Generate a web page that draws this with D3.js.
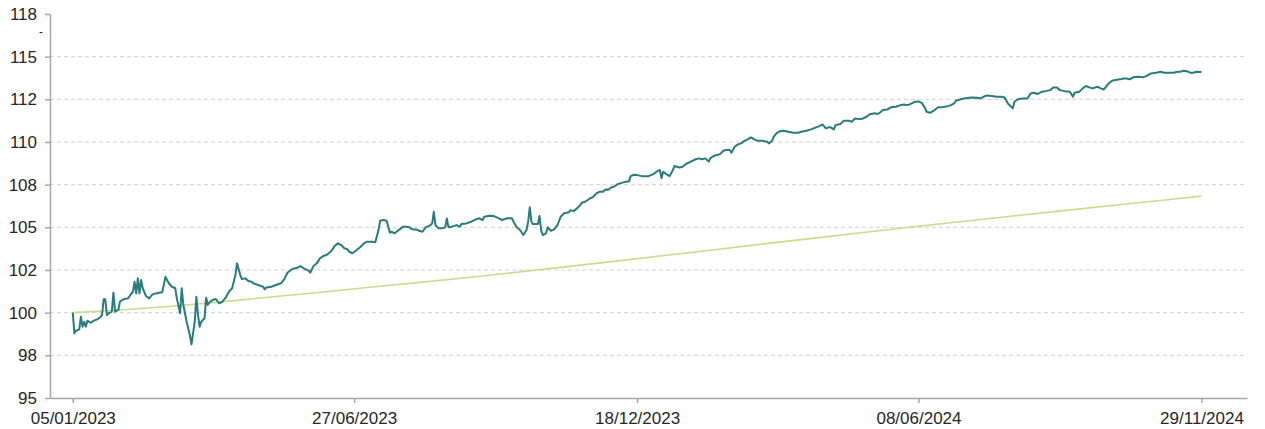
<!DOCTYPE html>
<html>
<head>
<meta charset="utf-8">
<script src="https://cdn.jsdelivr.net/npm/d3@7"></script>
<style>
  html, body { margin: 0; padding: 0; background: #fff; }
  #chart-area { width: 1265px; height: 429px; }
  .axis text { font-family: "Liberation Sans", Arial, sans-serif; font-size: 17px; fill: #262626; }
  .axis path, .axis line { stroke: #a6a6a6; stroke-width: 1.5; }
  .grid line { stroke: #d0d0d0; stroke-width: 1; stroke-dasharray: 4,3; }
</style>
</head>
<body>
<div id="chart-area"></div>
<script>
// fund index (teal line)
const fundDates = [
  "2023-01-05","2023-01-06","2023-01-07","2023-01-09","2023-01-10","2023-01-11","2023-01-12","2023-01-13","2023-01-14","2023-01-16",
  "2023-01-18","2023-01-20","2023-01-22","2023-01-23","2023-01-24","2023-01-25","2023-01-26","2023-01-27","2023-01-29","2023-01-30",
  "2023-01-31","2023-02-02","2023-02-03","2023-02-05","2023-02-08","2023-02-09","2023-02-11","2023-02-12","2023-02-13","2023-02-14",
  "2023-02-15","2023-02-16","2023-02-17","2023-02-19","2023-02-21","2023-02-23","2023-02-27","2023-03-01","2023-03-03","2023-03-05",
  "2023-03-07","2023-03-09","2023-03-10","2023-03-12","2023-03-13","2023-03-14","2023-03-16","2023-03-18","2023-03-19","2023-03-21",
  "2023-03-22","2023-03-23","2023-03-24","2023-03-25","2023-03-27","2023-03-28","2023-03-29","2023-03-30","2023-04-01","2023-04-03",
  "2023-04-05","2023-04-07","2023-04-09","2023-04-11","2023-04-13","2023-04-15","2023-04-16","2023-04-18","2023-04-19","2023-04-21",
  "2023-04-23","2023-04-25","2023-04-26","2023-04-29","2023-05-02","2023-05-03","2023-05-04","2023-05-07","2023-05-10","2023-05-13",
  "2023-05-15","2023-05-17","2023-05-20","2023-05-23","2023-05-25","2023-05-27","2023-05-30","2023-05-31","2023-06-02","2023-06-04",
  "2023-06-06","2023-06-08","2023-06-10","2023-06-13","2023-06-15","2023-06-17","2023-06-19","2023-06-21","2023-06-23","2023-06-24",
  "2023-06-26","2023-06-28","2023-07-01","2023-07-03","2023-07-05","2023-07-08","2023-07-10","2023-07-12","2023-07-13","2023-07-15",
  "2023-07-17","2023-07-18","2023-07-19","2023-07-20","2023-07-22","2023-07-23","2023-07-25","2023-07-27","2023-07-29","2023-07-31",
  "2023-08-02","2023-08-04","2023-08-06","2023-08-08","2023-08-10","2023-08-13","2023-08-14","2023-08-15","2023-08-16","2023-08-18",
  "2023-08-20","2023-08-22","2023-08-23","2023-08-24","2023-08-26","2023-08-29","2023-08-31","2023-09-01","2023-09-04","2023-09-07",
  "2023-09-10","2023-09-12","2023-09-14","2023-09-15","2023-09-18","2023-09-21","2023-09-24","2023-09-26","2023-09-29","2023-10-02",
  "2023-10-03","2023-10-05","2023-10-07","2023-10-09","2023-10-11","2023-10-12","2023-10-13","2023-10-14","2023-10-15","2023-10-18",
  "2023-10-19","2023-10-20","2023-10-21","2023-10-23","2023-10-24","2023-10-26","2023-10-28","2023-10-30","2023-11-01","2023-11-03",
  "2023-11-06","2023-11-07","2023-11-09","2023-11-11","2023-11-13","2023-11-14","2023-11-16","2023-11-19","2023-11-21","2023-11-23",
  "2023-11-25","2023-11-27","2023-11-29","2023-11-30","2023-12-02","2023-12-04","2023-12-06","2023-12-09","2023-12-12","2023-12-13",
  "2023-12-14","2023-12-16","2023-12-18","2023-12-21","2023-12-25","2023-12-28","2023-12-30","2024-01-01","2024-01-02","2024-01-03",
  "2024-01-05","2024-01-07","2024-01-09","2024-01-10","2024-01-13","2024-01-15","2024-01-17","2024-01-20","2024-01-23","2024-01-25",
  "2024-01-27","2024-01-29","2024-01-31","2024-02-01","2024-02-03","2024-02-05","2024-02-07","2024-02-09","2024-02-11","2024-02-13",
  "2024-02-14","2024-02-16","2024-02-18","2024-02-20","2024-02-22","2024-02-24","2024-02-26","2024-02-28","2024-03-01","2024-03-04",
  "2024-03-07","2024-03-08","2024-03-10","2024-03-11","2024-03-13","2024-03-15","2024-03-17","2024-03-20","2024-03-23","2024-03-26",
  "2024-03-28","2024-03-31","2024-04-03","2024-04-06","2024-04-08","2024-04-10","2024-04-12","2024-04-14","2024-04-15","2024-04-17",
  "2024-04-18","2024-04-21","2024-04-23","2024-04-26","2024-04-28","2024-04-30","2024-05-03","2024-05-05","2024-05-07","2024-05-09",
  "2024-05-12","2024-05-14","2024-05-16","2024-05-17","2024-05-20","2024-05-22","2024-05-25","2024-05-28","2024-05-30","2024-06-01",
  "2024-06-03","2024-06-06","2024-06-08","2024-06-10","2024-06-12","2024-06-13","2024-06-15","2024-06-18","2024-06-20","2024-06-22",
  "2024-06-24","2024-06-26","2024-06-28","2024-06-30","2024-07-01","2024-07-04","2024-07-06","2024-07-09","2024-07-11","2024-07-14",
  "2024-07-16","2024-07-18","2024-07-20","2024-07-23","2024-07-26","2024-07-29","2024-07-31","2024-08-02","2024-08-05","2024-08-06",
  "2024-08-08","2024-08-11","2024-08-14","2024-08-16","2024-08-18","2024-08-20","2024-08-23","2024-08-25","2024-08-28","2024-08-30",
  "2024-09-01","2024-09-03","2024-09-06","2024-09-09","2024-09-11","2024-09-12","2024-09-15","2024-09-17","2024-09-19","2024-09-21",
  "2024-09-23","2024-09-26","2024-09-28","2024-09-30","2024-10-01","2024-10-03","2024-10-05","2024-10-07","2024-10-10","2024-10-12",
  "2024-10-14","2024-10-16","2024-10-18","2024-10-21","2024-10-24","2024-10-26","2024-10-29","2024-11-01","2024-11-04","2024-11-06",
  "2024-11-09","2024-11-12","2024-11-14","2024-11-16","2024-11-18","2024-11-20","2024-11-22","2024-11-24","2024-11-26","2024-11-29"
];
const fundValues = [
  100.00, 98.79, 98.94, 99.02, 99.76, 99.18, 99.47, 99.18, 99.53, 99.41,
  99.53, 99.61, 99.73, 99.86, 100.78, 100.78, 99.86, 99.96, 100.06, 101.17,
  100.06, 100.16, 100.64, 100.78, 100.84, 100.98, 101.23, 101.81, 101.13, 102.01,
  101.13, 101.91, 101.43, 100.98, 100.84, 101.07, 101.17, 101.19, 102.10, 101.72,
  101.52, 101.43, 100.84, 99.96, 101.43, 100.45, 99.47, 98.69, 98.14, 99.47,
  100.93, 99.86, 99.18, 99.47, 99.67, 100.88, 100.45, 100.60, 100.74, 100.80,
  100.55, 100.64, 100.88, 101.23, 101.43, 102.20, 102.89, 102.20, 101.97, 102.01,
  101.85, 101.81, 101.72, 101.62, 101.52, 101.37, 101.48, 101.52, 101.62, 101.72,
  101.95, 102.34, 102.56, 102.63, 102.73, 102.60, 102.46, 102.34, 102.73, 102.89,
  103.18, 103.32, 103.38, 103.61, 103.90, 104.06, 103.96, 103.77, 103.71, 103.57,
  103.48, 103.63, 103.86, 104.06, 104.16, 104.16, 104.12, 104.84, 105.39, 105.43,
  105.39, 105.04, 104.68, 104.74, 104.65, 104.74, 104.88, 105.04, 105.04, 105.00,
  104.88, 104.88, 104.80, 104.74, 105.00, 105.13, 105.23, 105.91, 105.13, 104.94,
  104.94, 105.00, 105.52, 105.00, 105.04, 105.13, 105.04, 105.19, 105.23, 105.33,
  105.47, 105.53, 105.43, 105.62, 105.68, 105.66, 105.53, 105.43, 105.53, 105.53,
  105.33, 105.00, 104.84, 104.55, 104.84, 105.33, 106.17, 105.33, 105.19, 105.19,
  105.66, 104.84, 104.55, 104.65, 105.00, 104.80, 104.88, 105.13, 105.62, 105.82,
  105.88, 106.01, 105.95, 106.11, 106.30, 106.44, 106.50, 106.69, 106.79, 106.99,
  107.09, 107.09, 107.23, 107.19, 107.33, 107.39, 107.53, 107.62, 107.68, 107.68,
  108.00, 108.08, 108.06, 108.00, 108.00, 108.12, 108.26, 108.36, 107.87, 108.26,
  108.12, 108.00, 108.36, 108.59, 108.51, 108.55, 108.71, 108.85, 108.99, 109.04,
  108.99, 109.04, 108.85, 109.04, 109.18, 109.24, 109.29, 109.49, 109.53, 109.53,
  109.37, 109.72, 109.86, 109.92, 110.07, 110.15, 110.27, 110.15, 110.07, 110.07,
  110.01, 109.92, 110.07, 110.31, 110.54, 110.64, 110.66, 110.60, 110.54, 110.54,
  110.60, 110.66, 110.74, 110.86, 110.93, 111.03, 110.80, 110.86, 110.86, 110.74,
  110.99, 111.05, 111.24, 111.24, 111.19, 111.38, 111.34, 111.38, 111.48, 111.62,
  111.68, 111.64, 111.77, 111.87, 111.91, 112.03, 112.07, 112.16, 112.20, 112.16,
  112.22, 112.36, 112.38, 112.29, 112.00, 111.77, 111.71, 111.87, 112.03, 112.03,
  112.07, 112.10, 112.16, 112.26, 112.42, 112.50, 112.55, 112.59, 112.61, 112.59,
  112.55, 112.65, 112.73, 112.69, 112.65, 112.65, 112.61, 112.26, 111.97, 112.36,
  112.50, 112.55, 112.55, 112.85, 112.89, 112.81, 112.95, 112.98, 113.04, 113.20,
  113.20, 113.04, 112.98, 112.95, 112.66, 112.89, 112.95, 113.14, 113.28, 113.20,
  113.14, 113.24, 113.14, 113.08, 113.20, 113.43, 113.59, 113.63, 113.67, 113.72,
  113.72, 113.67, 113.79, 113.82, 113.79, 113.86, 114.02, 114.06, 114.12, 114.06,
  114.06, 114.06, 114.12, 114.12, 114.17, 114.15, 114.06, 114.06, 114.12, 114.10
];

// benchmark (light green line)
const benchDates = [
  "2023-01-05","2023-02-05","2023-03-05","2023-04-05","2023-05-05","2023-06-05","2023-07-05","2023-08-05",
  "2023-09-05","2023-10-05","2023-11-05","2023-12-05","2024-01-05","2024-02-05","2024-03-05","2024-04-05",
  "2024-05-05","2024-06-05","2024-07-05","2024-08-05","2024-09-05","2024-10-05","2024-11-05","2024-11-29"
];
const benchValues = [
  100.00, 100.17, 100.36, 100.62, 100.90, 101.18, 101.47, 101.76,
  102.06, 102.37, 102.70, 103.02, 103.36, 103.70, 104.03, 104.37,
  104.70, 105.03, 105.34, 105.66, 105.98, 106.28, 106.59, 106.83
];

// axis ticks
const xTickDates = ["2023-01-05", "2023-06-27", "2023-12-18", "2024-06-08", "2024-11-29"];
const yTickValues = [95, 97.5, 100, 102.5, 105, 107.5, 110, 112.5, 115, 117.5];
const yTickLabels = ["95", "98", "100", "102", "105", "108", "110", "112", "115", "118"];

const parseDate = d3.utcParse("%Y-%m-%d");

let fund = fundDates.map((d, i) => ({ date: parseDate(d), value: fundValues[i] }));
let bench = benchDates.map((d, i) => ({ date: parseDate(d), value: benchValues[i] }));

let width = 1265, height = 429;

let svg = d3
  .select("#chart-area")
  .append("svg")
  .attr("width", width)
  .attr("height", height);

// SCALES (axis runs a bit past the first and last data dates)
let x = d3
  .scaleUtc()
  .domain([parseDate("2022-12-22"), parseDate("2024-12-27")])
  .range([50, 1247]);

let y = d3.scaleLinear().domain([95, 117.5]).range([398, 14]);

// gridlines
svg
  .append("g")
  .attr("class", "grid")
  .selectAll("line")
  .data(yTickValues.filter((v) => v > 95 && v < 117.5))
  .enter()
  .append("line")
  .attr("x1", 50)
  .attr("x2", 1247)
  .attr("y1", (d) => y(d))
  .attr("y2", (d) => y(d));

// ---- LINES ----
let line = d3
  .line()
  .x((d) => x(d.date))
  .y((d) => y(d.value));

svg
  .append("path")
  .datum(bench)
  .attr("fill", "none")
  .attr("stroke", "#c8dc8f")
  .attr("stroke-width", 1.6)
  .attr("d", line);

svg
  .append("path")
  .datum(fund)
  .attr("fill", "none")
  .attr("stroke", "#2a7b7c")
  .attr("stroke-width", 2)
  .attr("stroke-linejoin", "round")
  .attr("d", line);

// ---- AXES ----
let xAxis = d3
  .axisBottom(x)
  .tickValues(xTickDates.map(parseDate))
  .tickFormat(d3.utcFormat("%d/%m/%Y"))
  .tickSize(5)
  .tickSizeOuter(0)
  .tickPadding(9);

let yAxis = d3
  .axisLeft(y)
  .tickValues(yTickValues)
  .tickFormat((d, i) => yTickLabels[i])
  .tickSize(5)
  .tickSizeOuter(0)
  .tickPadding(8);

svg
  .append("g")
  .attr("class", "x-axis axis")
  .attr("transform", "translate(0,398)")
  .call(xAxis);

svg
  .append("g")
  .attr("class", "y-axis axis")
  .attr("transform", "translate(50,0)")
  .call(yAxis);

svg.selectAll(".axis text").attr("font-family", null).attr("font-size", null);

// little stray mark under the top label
svg
  .append("text")
  .attr("x", 41)
  .attr("y", 36)
  .attr("text-anchor", "middle")
  .attr("font-family", "Liberation Sans, Arial, sans-serif")
  .attr("font-size", 12)
  .attr("fill", "#262626")
  .text("-");
</script>
</body>
</html>
